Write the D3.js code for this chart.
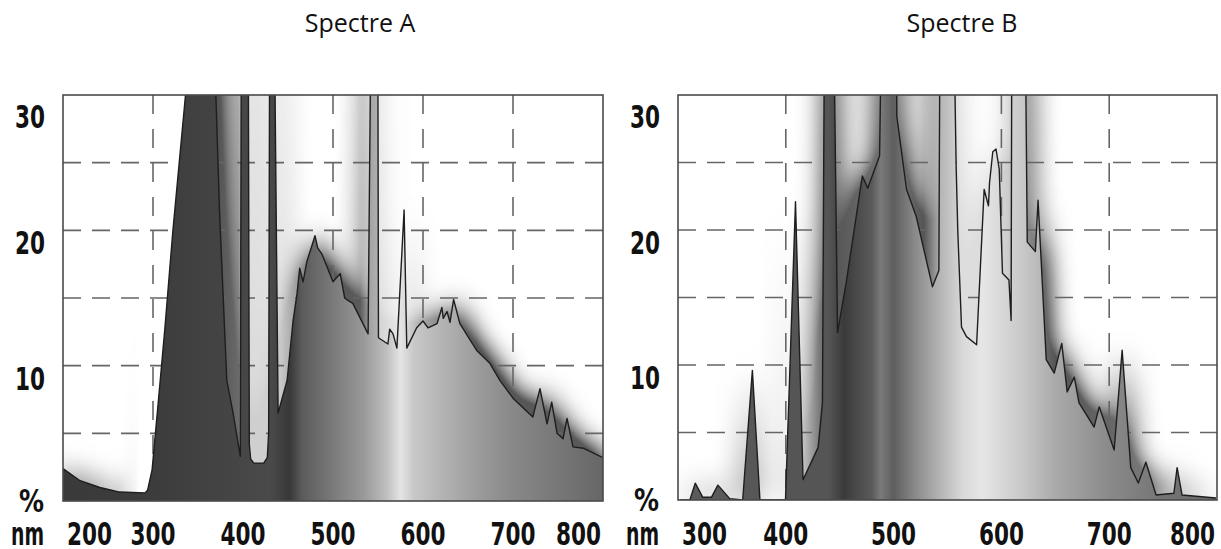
<!DOCTYPE html>
<html>
<head>
<meta charset="utf-8">
<script src="https://cdn.jsdelivr.net/npm/d3@7.9.0/dist/d3.min.js"></script>
<style>
  body { margin: 0; background: #fff; }
  svg { display: block; }
  .tick-label { font-family: "DejaVu Sans Condensed", "DejaVu Sans", sans-serif; font-weight: bold; font-size: 32px; fill: #111; }
  .title { font-family: "Open Sans", "Noto Sans", sans-serif; font-size: 25px; fill: #111; }
</style>
</head>
<body>
<svg id="chart" width="1221" height="549"></svg>
<script>
// spectrum A (nm / %)
const specA_nm = [200, 219, 241, 263, 291, 294, 299, 302, 306, 313, 322, 336, 348, 362, 370, 374, 382, 389, 397,
  398.5, 405.5, 407, 408.5, 412, 423, 427, 428.5, 430, 433.5, 439, 449, 455.6, 460, 463, 466.7, 471, 480, 483, 488,
  500, 508, 513, 517, 522, 539, 543.5, 549.5, 550.5, 561, 563, 566.7, 571, 579, 582, 593, 600, 605.6, 615.6, 621,
  622.5, 626.7, 630, 634, 641, 660, 674, 685.6, 700, 722, 730, 737.8, 743, 749, 755.6, 760, 766.7, 778, 800];
const specA_val = [2.4, 1.5, 1.0, 0.66, 0.6, 0.8, 2.3, 4.5, 7.4, 12.6, 19.9, 29.9, 45, 45, 29.7, 21.2, 8.9, 6.5, 3.3,
  45, 45, 4.2, 3.1, 2.8, 2.8, 3.2, 5, 45, 45, 6.5, 8.9, 13.3, 15.3, 17.2, 16.2, 17.7, 19.6, 18.7, 18.2,
  16.2, 16.8, 15.0, 14.8, 14.6, 12.35, 45, 45, 12.06, 11.6, 12.7, 12.35, 11.3, 21.5, 11.3, 12.8, 13.3, 12.8, 13.1, 14.3,
  13.5, 14.0, 13.2, 14.9, 13.1, 11.1, 10.2, 8.9, 7.6, 6.2, 8.3, 5.7, 7.3, 5.0, 4.6, 6.1, 4.0, 3.9, 3.2];

// spectrum B (nm / %)
const specB_nm = [302, 311, 316, 323, 331, 337, 348, 360, 369, 376, 399.7, 409, 416, 430, 434, 436.5, 443, 448, 456,
  471, 476, 487, 490.5, 502, 503, 512, 521, 536, 542, 543.5, 554, 558, 559.5, 563, 567.6, 577, 584, 588, 589, 592,
  595, 598, 601, 607, 609, 610, 621, 624, 631.5, 634, 641.6, 649, 656, 661, 667.6, 672, 686, 690.7, 704.6, 712, 720,
  727, 734, 743.5, 760, 763, 767.6, 799];
const specB_val = [0, 0, 1.25, 0.2, 0.2, 1.1, 0.1, 0, 9.6, 0, 0, 22.1, 1.5, 3.9, 7.2, 45, 45, 12.4, 16.1,
  24.0, 23.1, 25.5, 45, 45, 28.4, 23.0, 21.0, 15.8, 17.0, 45, 45, 24.8, 20, 12.8, 12.1, 11.5, 23.0, 21.8, 23.5, 25.8,
  26.0, 24.5, 16.8, 16.3, 13.3, 45, 45, 19.1, 18.4, 22.2, 10.4, 9.4, 11.6, 8.0, 9.1, 7.2, 5.4, 6.9, 3.7, 11.1, 2.4,
  1.26, 2.8, 0.37, 0.5, 2.4, 0.37, 0.15];

const titles = ["Spectre A", "Spectre B"];
const yTicks = [30, 20, 10];
const yGrid = [5, 10, 15, 20, 25];
const xTicksA = [200, 300, 400, 500, 600, 700, 800];
const xTicksB = [300, 400, 500, 600, 700, 800];
const xGridA = [300, 400, 500, 600, 700];
const xGridB = [400, 500, 600, 700];

// grey shading under the curve (nm -> grey)
const shadeA = [[200, "#3a3a3a"], [300, "#3c3c3c"], [380, "#444"], [430, "#4a4a4a"], [452, "#383838"], [465, "#5a5a5a"],
  [500, "#7a7a7a"], [535, "#9a9a9a"], [560, "#c0c0c0"], [575, "#e4e4e4"], [590, "#c8c8c8"], [620, "#b4b4b4"],
  [660, "#9c9c9c"], [700, "#888"], [760, "#747474"], [800, "#666"]];
const shadeB = [[300, "#5c5c5c"], [400, "#555"], [440, "#555"], [454, "#3a3a3a"], [466, "#4a4a4a"], [480, "#5a5a5a"],
  [488, "#7a7a7a"], [500, "#5e5e5e"], [520, "#8a8a8a"], [545, "#b8b8b8"], [565, "#dadada"], [582, "#e6e6e6"],
  [600, "#d8d8d8"], [620, "#c8c8c8"], [650, "#aaa"], [700, "#8a8a8a"], [750, "#747474"], [800, "#6a6a6a"]];
// glow around the curve (nm -> grey)
const glowA = [[200, "#aaa"], [262, "#bbb"], [285, "#fff"], [345, "#fff"], [362, "#4a4a4a"], [395, "#6a6a6a"],
  [403, "#cfcfcf"], [428, "#cfcfcf"], [442, "#c8c8c8"], [468, "#8a8a8a"], [488, "#555"], [530, "#5a5a5a"],
  [548, "#d0d0d0"], [575, "#eaeaea"], [598, "#aaa"], [630, "#777"], [660, "#555"], [800, "#5a5a5a"]];
const glowB = [[300, "#bbb"], [370, "#bbb"], [388, "#e0e0e0"], [402, "#eee"], [414, "#ccc"], [432, "#777"],
  [445, "#555"], [470, "#666"], [500, "#777"], [528, "#555"], [545, "#bbb"], [562, "#ddd"], [592, "#ddd"],
  [606, "#ccc"], [625, "#888"], [650, "#555"], [700, "#666"], [735, "#7a7a7a"], [765, "#999"], [800, "#aaa"]];

const panels = [
  { title: titles[0], nm: specA_nm, val: specA_val, domain: [200, 800], range: [63, 603], yRange: [501, 95],
    ticks: xTicksA, gridX: xGridA, shade: shadeA, glow: glowA, titleX: 360 },
  { title: titles[1], nm: specB_nm, val: specB_val, domain: [300, 800], range: [678, 1217], yRange: [500, 95],
    ticks: xTicksB, gridX: xGridB, shade: shadeB, glow: glowB, titleX: 962 }
];

// narrow bold labels: squeeze to the reference width
const labelWidth = s => s === "nm" ? 33 : s === "%" ? 25 : String(s).length * 15;

const svg = d3.select("#chart");
const defs = svg.append("defs");

function label(x, y, s, anchor) {
  svg.append("text").attr("class", "tick-label")
    .attr("text-anchor", anchor)
    .attr("x", x).attr("y", y)
    .attr("textLength", labelWidth(s))
    .attr("lengthAdjust", "spacingAndGlyphs")
    .text(s);
}

function gradient(id, stops, p, x0, x1) {
  const g = defs.append("linearGradient")
    .attr("id", id)
    .attr("gradientUnits", "userSpaceOnUse")
    .attr("x1", x0).attr("x2", x1).attr("y1", 0).attr("y2", 0);
  stops.forEach(([n, c]) => {
    g.append("stop")
      .attr("offset", (n - p.domain[0]) / (p.domain[1] - p.domain[0]))
      .attr("stop-color", c);
  });
}

panels.forEach((p, i) => {
  const x = d3.scaleLinear().domain(p.domain).range(p.range);
  const y = d3.scaleLinear().domain([0, 30]).range(p.yRange);
  const [x0, x1] = p.range;
  const [yb, yt] = p.yRange;
  const pts = p.nm.map((n, k) => [n, p.val[k]]);

  gradient(`fill${i}`, p.shade, p, x0, x1);
  gradient(`glow${i}`, p.glow, p, x0, x1);

  const area = d3.area().x(d => x(d[0])).y0(yb).y1(d => y(d[1]));
  const line = d3.line().x(d => x(d[0])).y(d => y(d[1]));

  defs.append("clipPath").attr("id", `clip${i}`)
    .append("rect").attr("x", x0).attr("y", yt).attr("width", x1 - x0).attr("height", yb - yt);

  const blur = defs.append("filter").attr("id", `blur${i}`)
    .attr("filterUnits", "userSpaceOnUse")
    .attr("x", x0 - 100).attr("y", 0).attr("width", x1 - x0 + 200).attr("height", 640);
  blur.append("feGaussianBlur").attr("stdDeviation", 15);
  blur.append("feComponentTransfer").append("feFuncA").attr("type", "linear").attr("slope", 2.3);

  // mask = blurred spectrum shape
  const mask = defs.append("mask").attr("id", `mask${i}`)
    .attr("maskUnits", "userSpaceOnUse")
    .attr("x", x0).attr("y", yt).attr("width", x1 - x0).attr("height", yb - yt);
  mask.append("path").attr("d", area(pts)).attr("fill", "#fff").attr("filter", `url(#blur${i})`);

  const plot = svg.append("g").attr("clip-path", `url(#clip${i})`);

  // glow
  plot.append("rect")
    .attr("x", x0).attr("y", yt).attr("width", x1 - x0).attr("height", yb - yt)
    .attr("fill", `url(#glow${i})`)
    .attr("mask", `url(#mask${i})`);

  // dashed grid
  plot.selectAll(".hgrid").data(yGrid).join("line")
    .attr("x1", x0).attr("x2", x1)
    .attr("y1", d => y(d)).attr("y2", d => y(d))
    .attr("stroke", "#666").attr("stroke-width", 1.6)
    .attr("stroke-dasharray", "18,11");
  plot.selectAll(".vgrid").data(p.gridX).join("line")
    .attr("x1", d => x(d)).attr("x2", d => x(d))
    .attr("y1", yt).attr("y2", yb)
    .attr("stroke", "#666").attr("stroke-width", 1.6)
    .attr("stroke-dasharray", "19,15");

  // spectrum
  plot.append("path").attr("d", area(pts)).attr("fill", `url(#fill${i})`);
  plot.append("path").attr("d", line(pts))
    .attr("fill", "none").attr("stroke", "#1e1e1e")
    .attr("stroke-width", 1.4).attr("stroke-linejoin", "round");

  // frame
  svg.append("rect")
    .attr("x", x0).attr("y", yt).attr("width", x1 - x0).attr("height", yb - yt)
    .attr("fill", "none").attr("stroke", "#4a4a4a").attr("stroke-width", 1.6);

  // y labels
  yTicks.forEach(v => label(x0 - 18, Math.max(y(v) + 24, yt + 33), String(v), "end"));
  label(x0 - 19, yb + 11, "%", "end");
  label(x0 - 19, 545, "nm", "end");

  // x labels (end labels pulled inside the frame)
  const n = p.ticks.length;
  p.ticks.forEach((v, k) => {
    if (k === 0) label(x0 + 4, 545, String(v), "start");
    else if (k === n - 1) label(x1 - 2, 545, String(v), "end");
    else label(x(v), 545, String(v), "middle");
  });

  svg.append("text").attr("class", "title")
    .attr("text-anchor", "middle")
    .attr("x", p.titleX).attr("y", 32)
    .text(p.title);
});
</script>
</body>
</html>
